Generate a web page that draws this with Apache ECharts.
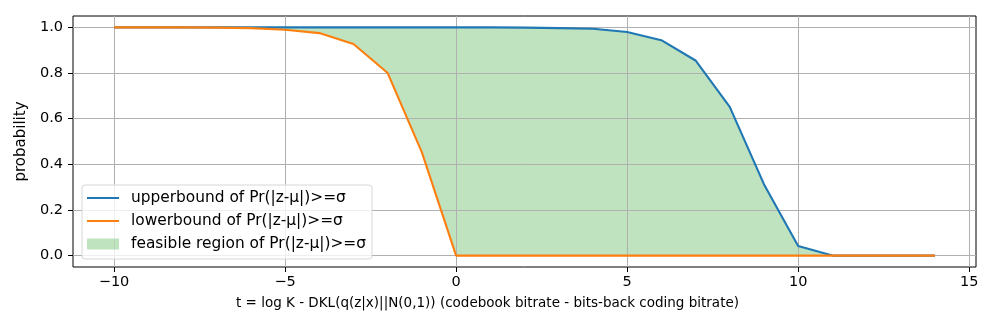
<!DOCTYPE html>
<html>
<head>
<meta charset="utf-8">
<script src="https://cdn.jsdelivr.net/npm/echarts@6/dist/echarts.min.js"></script>
<style>
html,body{margin:0;padding:0;background:#fff;}
#chart{width:997px;height:332px;}
</style>
</head>
<body>
<div id="chart"></div>
<script>
var tValues = [-10,-9,-8,-7,-6,-5,-4,-3,-2,-1,0,1,2,3,4,5,6,7,8,9,10,11,12,13,14];
var upperValues = [1.0,1.0,1.0,1.0,1.0,1.0,1.0,1.0,1.0,1.0,1.0,1.0,0.999,0.997,0.994,0.980,0.944,0.855,0.652,0.313,0.042,0.0,0.0,0.0,0.0];
var lowerValues = [1.0,1.0,1.0,0.999,0.997,0.990,0.975,0.927,0.800,0.452,0.0,0.0,0.0,0.0,0.0,0.0,0.0,0.0,0.0,0.0,0.0,0.0,0.0,0.0,0.0];
var xTicks = [-10,-5,0,5,10,15];
var yTicks = [0.0,0.2,0.4,0.6,0.8,1.0];

var nameUpper = 'upperbound of Pr(|z-μ|)>=σ';
var nameLower = 'lowerbound of Pr(|z-μ|)>=σ';
var nameFill = 'feasible region of Pr(|z-μ|)>=σ';

function pairs(xs, ys){ return xs.map(function(x,i){ return [x, ys[i]]; }); }
var bandData = tValues.map(function(x,i){ return [x, upperValues[i], lowerValues[i]]; });

var lineIcon = 'path://M0,0 H32 V2 H0 Z';
var font = 'DejaVu Sans';
var chart = echarts.init(document.getElementById('chart'), null, {renderer:'canvas'});
chart.setOption({
  animation:false,
  backgroundColor:'#fff',
  grid:{left:73, right:21, top:16, bottom:65, show:true, borderColor:'#000', borderWidth:1, backgroundColor:'transparent'},
  legend:{
    orient:'vertical', left:82, top:185,
    padding:[4,6,6,5],
    itemWidth:32, itemHeight:11, itemGap:5,
    backgroundColor:'rgba(255,255,255,0.8)',
    borderColor:'#d6d6d6', borderWidth:1, borderRadius:3,
    textStyle:{fontFamily:font, fontSize:15.4, color:'#000', lineHeight:18, padding:[0,0,0,7]},
    data:[
      {name:nameUpper, icon:lineIcon},
      {name:nameLower, icon:lineIcon},
      {name:nameFill, icon:'rect', itemStyle:{color:'rgba(44,160,44,0.3)'}}
    ]
  },
  xAxis:{
    type:'value', min:-11.2, max:15.2,
    name:'t = log K - DKL(q(z|x)||N(0,1)) (codebook bitrate - bits-back coding bitrate)',
    nameLocation:'middle', nameGap:29,
    nameTextStyle:{fontFamily:font, fontSize:13.5, color:'#000', padding:[0,74,0,0]},
    axisLine:{show:false, onZero:false},
    axisTick:{show:true, inside:false, length:5, lineStyle:{color:'#000', width:1}, customValues:xTicks},
    axisLabel:{fontFamily:font, fontSize:14.5, color:'#000', margin:8, customValues:xTicks,
      formatter:function(v){ return String(v).replace('-', '\u2212'); }},
    splitLine:{show:true, lineStyle:{color:'#b0b0b0', width:1}}
  },
  yAxis:{
    type:'value', min:-0.05, max:1.05,
    name:'probability', nameLocation:'middle', nameGap:42,
    nameTextStyle:{fontFamily:font, fontSize:15, color:'#000'},
    axisLine:{show:false, onZero:false},
    axisTick:{show:true, inside:false, length:5, lineStyle:{color:'#000', width:1}, customValues:yTicks},
    axisLabel:{fontFamily:font, fontSize:14.5, color:'#000', margin:10, customValues:yTicks,
      formatter:function(v){ return v.toFixed(1); }},
    splitLine:{show:true, lineStyle:{color:'#b0b0b0', width:1}}
  },
  series:[
    {name:nameFill, type:'custom', data:bandData, encode:{x:0, y:[1,2]}, clip:true, silent:true, z:-1,
     color:'rgba(44,160,44,0.3)',
     renderItem:function(params, api){
       if (params.dataIndex !== 0) return null;
       var pts = [];
       for (var i = 0; i < tValues.length; i++) pts.push(api.coord([tValues[i], upperValues[i]]));
       for (var j = tValues.length - 1; j >= 0; j--) pts.push(api.coord([tValues[j], lowerValues[j]]));
       return {type:'polygon', shape:{points:pts}, style:{fill:'rgba(44,160,44,0.3)', stroke:null}};
     }},
    {name:nameUpper, type:'line', data:pairs(tValues, upperValues), symbol:'none',
     color:'#1f77b4', lineStyle:{color:'#1f77b4', width:2.1}, z:3},
    {name:nameLower, type:'line', data:pairs(tValues, lowerValues), symbol:'none',
     color:'#ff7f0e', lineStyle:{color:'#ff7f0e', width:2.1}, z:4}
  ]
});
</script>
</body>
</html>
